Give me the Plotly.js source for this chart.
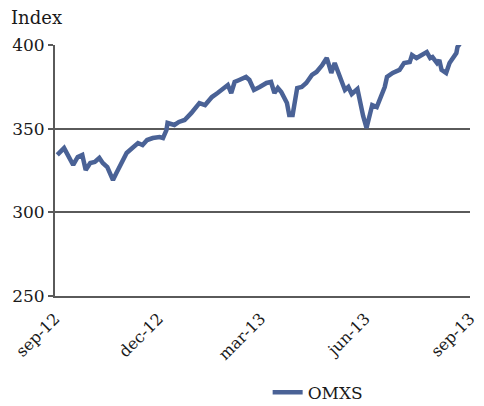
<!DOCTYPE html>
<html>
<head>
<meta charset="utf-8">
<script src="https://cdn.plot.ly/plotly-3.0.1.min.js"></script>
<style>html,body{margin:0;padding:0;background:#fff}#chart{width:484px;height:406px}</style>
</head>
<body>
<div id="chart"></div>
<script>
const seriesName = "OMXS";
const dates = [
"2012-09-03","2012-09-09","2012-09-17","2012-09-21","2012-09-25","2012-09-28","2012-10-02","2012-10-06","2012-10-10","2012-10-13",
"2012-10-17","2012-10-22","2012-10-25","2012-10-30","2012-11-03","2012-11-08","2012-11-13","2012-11-17","2012-11-21","2012-11-26",
"2012-12-02","2012-12-05","2012-12-08","2012-12-09","2012-12-15","2012-12-19","2012-12-24","2012-12-30","2013-01-06","2013-01-11",
"2013-01-17","2013-01-22","2013-01-27","2013-01-31","2013-02-03","2013-02-06","2013-02-10","2013-02-16","2013-02-19","2013-02-23",
"2013-02-28","2013-03-06","2013-03-10","2013-03-13","2013-03-16","2013-03-19","2013-03-24","2013-03-26","2013-03-29","2013-04-02",
"2013-04-06","2013-04-10","2013-04-15","2013-04-19","2013-04-24","2013-04-28","2013-04-30","2013-05-02","2013-05-05","2013-05-08",
"2013-05-11","2013-05-14","2013-05-17","2013-05-20","2013-05-25","2013-05-27","2013-05-30","2013-06-02","2013-06-05","2013-06-07",
"2013-06-11","2013-06-15","2013-06-18","2013-06-20","2013-06-25","2013-07-01","2013-07-05","2013-07-10","2013-07-12","2013-07-16",
"2013-07-21","2013-07-25","2013-07-28","2013-07-30","2013-08-03","2013-08-05","2013-08-07","2013-08-11","2013-08-14","2013-08-17",
"2013-08-20","2013-08-21","2013-08-23"
];
const omxs = [
334.3,338.4,328.3,333.1,334.3,325.3,329.5,330.1,332.5,329.5,
327.1,319.3,323.5,329.5,335.5,338.4,341.4,340.2,343.2,344.4,
345.0,344.4,349.2,353.4,352.2,354.0,355.2,359.4,365.3,364.1,
368.9,371.3,374.3,376.1,371.3,377.9,379.1,380.9,379.1,373.1,
374.9,377.3,377.9,371.3,374.3,371.9,365.3,358.2,358.2,374.3,
374.9,377.3,382.1,383.9,388.0,392.2,388.0,383.3,389.2,383.3,
379.1,373.1,374.9,370.7,373.7,366.5,357.6,350.4,360.0,364.1,
362.9,368.9,374.9,380.9,383.3,385.1,389.2,389.8,394.0,392.2,
394.0,395.8,392.2,392.8,389.2,391.0,385.1,383.3,389.2,392.8,
395.2,398.8,400.6
];
const xTickVals = ["2012-09-01","2012-12-01","2013-03-01","2013-06-01","2013-09-01"];
const xTickText = ["sep-12","dec-12","mar-13","jun-13","sep-13"];
const yTickVals = [250,300,350,400];
const yTitle = "Index";

const fontFam = "DejaVu Serif, serif";
const gridCol = "#5a5a5a";

Plotly.newPlot("chart", [{
  x: dates, y: omxs, type: "scatter", mode: "lines", name: seriesName,
  line: {color: "#4a6296", width: 4.5}
}], {
  width: 484, height: 406,
  margin: {l: 55, r: 14, t: 45, b: 110, autoexpand: false},
  paper_bgcolor: "#fff", plot_bgcolor: "#fff",
  font: {family: fontFam, size: 16, color: "#1a1a1a"},
  showlegend: true,
  legend: {orientation: "h", xref: "container", yref: "container", x: 0.553, xanchor: "left", y: 0.033, yanchor: "middle", font: {family: fontFam, size: 17}},
  xaxis: {
    type: "date", range: ["2012-09-01","2013-09-01"],
    tickvals: xTickVals, ticktext: xTickText, tickangle: -45,
    showgrid: false, zeroline: false, automargin: false,
    showline: true, linecolor: gridCol, linewidth: 2,
    ticks: "outside", ticklen: 5, tickcolor: "rgba(0,0,0,0)", tickfont: {family: fontFam, size: 16}
  },
  yaxis: {
    range: [250, 400], tickvals: yTickVals, automargin: false,
    showgrid: true, gridcolor: gridCol, gridwidth: 2,
    zeroline: false, showline: true, linecolor: gridCol, linewidth: 2,
    ticks: "outside", ticklen: 5, tickcolor: gridCol, tickwidth: 2,
    tickfont: {family: fontFam, size: 17}
  },
  annotations: [{
    text: yTitle, xref: "paper", yref: "paper", x: -0.11, y: 1.06,
    xanchor: "left", yanchor: "bottom", showarrow: false,
    font: {family: fontFam, size: 18, color: "#1a1a1a"}
  }]
}, {displayModeBar: false, staticPlot: true});
</script>
</body>
</html>
